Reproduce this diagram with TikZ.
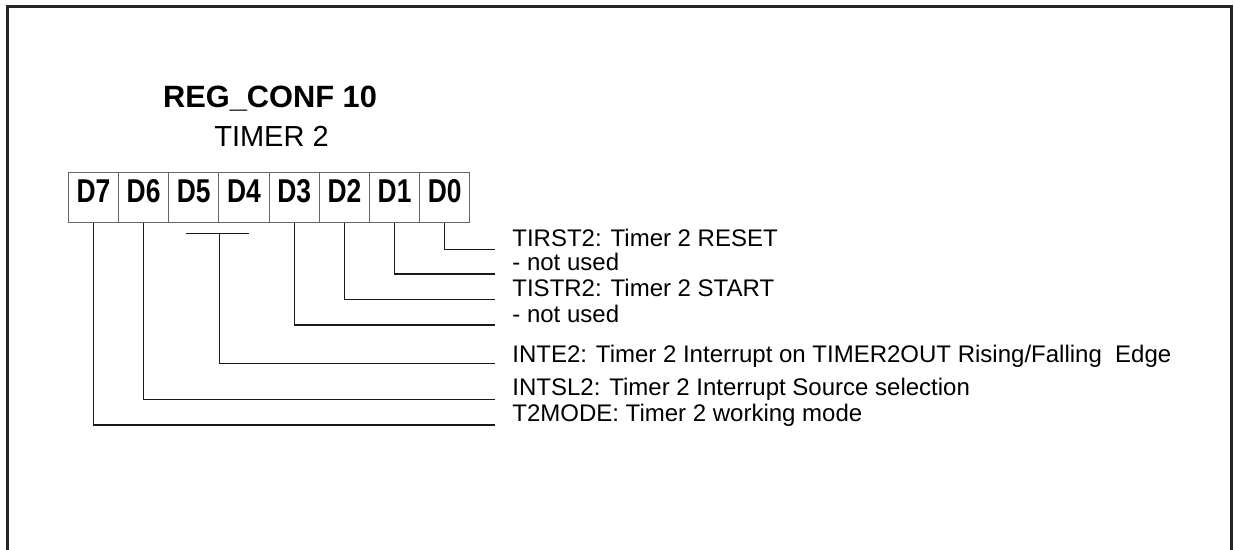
\documentclass[tikz,border=0pt]{standalone}
\usepackage{fontspec}
\setmainfont{Liberation Sans}
\newfontfamily\bitfont[FakeStretch=0.8]{Liberation Sans}
\usepackage{tikz}
\usetikzlibrary{positioning,calc}

\begin{document}
\begin{tikzpicture}[x=0.5pt,y=-0.5pt,
  bitbox/.style={draw=black!60,line width=0.5pt,minimum width=25.1pt,minimum height=25pt,inner sep=0pt,text depth=6.6pt,font=\bitfont\bfseries\fontsize{16.5}{17}\selectfont},
  lbl/.style={anchor=base west,inner sep=0pt,font=\fontsize{12}{14}\selectfont},
  lead/.style={line width=0.6pt,black!90}]
\useasboundingbox (0,0) rectangle (1235,550);
\draw[line width=1.3pt,black!85] (7.3,550) -- (7.3,6.7) -- (1231.7,6.7) -- (1231.7,550);
% register title
\node[anchor=base,font=\bfseries\fontsize{15.4}{18}\selectfont] (title) at (270,108) {REG\_CONF 10};
\node[anchor=base,font=\fontsize{14.5}{17}\selectfont] (sub) at (271.5,146.7) {TIMER 2};
% bit cells
\foreach \b [count=\i from 0] in {7,6,...,0}
  \node[bitbox] (d\b) at ({93.4+50.2*\i},198) {D\b};
% field descriptions
\node[lbl] (l0) at (512,246.7) {TIRST2: Timer 2 RESET};
\node[lbl] (l1) at (512,271) {- not used};
\node[lbl] (l2) at (512,297) {TISTR2: Timer 2 START};
\node[lbl] (l3) at (512,322) {- not used};
\node[lbl] (l5) at (512,363) {INTE2: Timer 2 Interrupt on TIMER2OUT Rising/Falling\ \ Edge};
\node[lbl] (l6) at (512,395.5) {INTSL2: Timer 2 Interrupt Source selection};
\node[lbl] (l7) at (512,421) {T2MODE: Timer 2 working mode};
% line ends
\foreach \b/\y in {0/249.3,1/274,2/299.3,3/325,5/363.3,6/399.3,7/425}
  \coordinate (e\b) at (495,\y);
\coordinate (bar) at ($(d5.south east)+(0,9.7)$);
% leads
\foreach \b in {0,1,2,3,6,7}
  \draw[lead] (d\b.south) |- (e\b);
\draw[lead] ($(bar)+(-33,0)$) -- ($(bar)+(29.5,0)$);
\draw[lead] (bar) |- (e5);
\end{tikzpicture}
\end{document}
